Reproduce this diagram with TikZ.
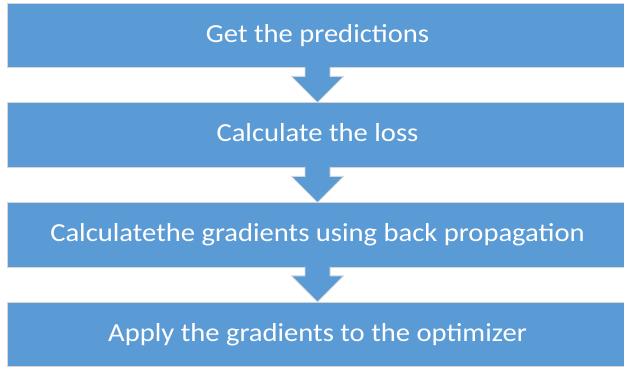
\documentclass[tikz,border=0pt]{standalone}
\usepackage{fontspec}
\setmainfont{Carlito}[FakeStretch=1.1]
\usetikzlibrary{calc}

\definecolor{stepblue}{HTML}{5B9BD5}
\definecolor{edgegray}{HTML}{D6D6D6}

\tikzset{
  stepbox/.style={rectangle, fill=stepblue, draw=edgegray, line width=0.8pt,
    minimum width=621pt, minimum height=64.5pt, inner sep=0pt,
    text height=18pt, text depth=4.5pt,
    text=white, font=\fontsize{26}{30}\selectfont},
  downarrow/.style={fill=stepblue, draw=edgegray, line width=0.8pt, line join=miter}
}

\begin{document}
\begin{tikzpicture}[x=1pt,y=1pt]
\useasboundingbox (0,0) rectangle (624,-368);
\clip (0,0) rectangle (624,-368);

\node (pred) at (317.5,-35.5) [stepbox] {Get the predictions};
\node (loss) at (317.5,-135) [stepbox] {Calculate the loss};
\node (grad) at (317.5,-235) [stepbox] {Calculatethe gradients using back propagation};
\node (apply) at (317.5,-334.5) [stepbox] {Apply the gradients to the optimizer};

% block arrows between the steps
\draw[downarrow] ([xshift=-12.5pt,yshift=1pt]pred.south) -- ($(loss.north)+(-12.5,26)$)
  -- ($(loss.north)+(-26,26)$) -- (loss.north) -- ($(loss.north)+(26,26)$)
  -- ($(loss.north)+(12.5,26)$) -- ([xshift=12.5pt,yshift=1pt]pred.south);
\draw[downarrow] ([xshift=-12.5pt,yshift=1pt]loss.south) -- ($(grad.north)+(-12.5,26)$)
  -- ($(grad.north)+(-26,26)$) -- (grad.north) -- ($(grad.north)+(26,26)$)
  -- ($(grad.north)+(12.5,26)$) -- ([xshift=12.5pt,yshift=1pt]loss.south);
\draw[downarrow] ([xshift=-12.5pt,yshift=1pt]grad.south) -- ($(apply.north)+(-12.5,26)$)
  -- ($(apply.north)+(-26,26)$) -- (apply.north) -- ($(apply.north)+(26,26)$)
  -- ($(apply.north)+(12.5,26)$) -- ([xshift=12.5pt,yshift=1pt]grad.south);
\end{tikzpicture}
\end{document}
